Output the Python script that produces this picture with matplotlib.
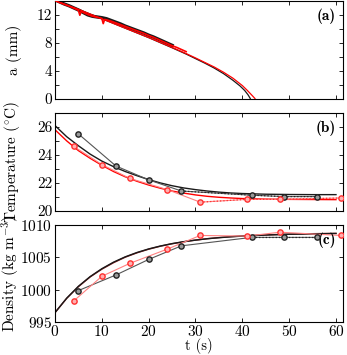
import matplotlib
matplotlib.use("Agg")
import matplotlib.pyplot as plt

plt.rcParams["font.family"] = "cmr10"
plt.rcParams["mathtext.fontset"] = "cm"
plt.rcParams["axes.formatter.use_mathtext"] = True
plt.rcParams["font.size"] = 11

# ---- panel (a): radius a (mm) ----
t_a_blk = [0, 1, 2, 3, 4, 5, 6, 7, 8, 9, 10, 11, 12, 13, 14, 15, 16, 17, 18,
           19, 20, 21, 22, 23, 24, 25]
a_blk = [14.1, 13.8, 13.5, 13.25, 12.95, 12.65, 12.3, 11.95, 11.75, 11.65,
         11.55, 11.4, 11.15, 10.9, 10.65, 10.35, 10.1, 9.85, 9.6, 9.35, 9.05,
         8.8, 8.5, 8.2, 7.9, 7.6]
t_a_red = [0, 1, 2, 3, 4, 5, 5.3, 5.6, 6, 7, 8, 9, 10, 10.3, 10.6, 11, 12, 13,
           14, 15, 16, 17, 18, 19, 20, 21, 22, 23, 24, 25, 26, 27, 28]
a_red = [14.0, 13.7, 13.45, 13.2, 12.9, 12.6, 11.9, 12.5, 12.3, 12.0, 11.75,
         11.6, 11.45, 10.7, 11.3, 11.25, 11.05, 10.8, 10.55, 10.3, 10.05, 9.8,
         9.55, 9.3, 9.0, 8.75, 8.45, 8.15, 7.85, 7.55, 7.3, 7.0, 6.7]
t_a_mod_blk = [0, 5, 10, 15, 20, 25, 28, 30, 32, 34, 36, 38, 39.5, 40.5, 41.2,
               41.7]
a_mod_blk = [14.0, 12.75, 11.4, 10.05, 8.7, 7.25, 6.35, 5.7, 5.05, 4.35, 3.55,
             2.6, 1.8, 1.15, 0.55, 0.0]
t_a_mod_red = [0, 5, 10, 15, 20, 25, 28, 30, 32, 34, 36, 38, 40, 41, 42, 42.7]
a_mod_red = [14.0, 12.75, 11.4, 10.05, 8.72, 7.3, 6.42, 5.8, 5.15, 4.5, 3.75,
             2.9, 1.85, 1.2, 0.5, 0.0]

# ---- panel (b): temperature (degC) ----
t_b_blk = [5, 13, 20, 27, 42, 49, 56]
T_b_blk = [25.5, 23.2, 22.2, 21.4, 21.1, 21.0, 21.0]
t_b_red = [4, 10, 16, 24, 31, 41, 48, 61]
T_b_red = [24.6, 23.3, 22.3, 21.5, 20.6, 20.8, 20.8, 20.9]
t_mod = [0, 2.5, 5, 7.5, 10, 12.5, 15, 17.5, 20, 22.5, 25, 27.5, 30, 32.5, 35,
         37.5, 40, 45, 50, 55, 60]
T_mod_blk = [26.1, 25.3, 24.65, 24.05, 23.55, 23.15, 22.8, 22.5, 22.22, 21.98,
             21.78, 21.62, 21.5, 21.4, 21.32, 21.26, 21.22, 21.17, 21.15,
             21.14, 21.14]
T_mod_red = [25.8, 25.0, 24.3, 23.75, 23.25, 22.8, 22.42, 22.1, 21.83, 21.6,
             21.4, 21.25, 21.12, 21.02, 20.95, 20.9, 20.86, 20.82, 20.8, 20.79,
             20.78]

# ---- panel (c): density (kg m^-3) ----
t_c_blk = [5, 13, 20, 27, 42, 49, 56]
rho_c_blk = [999.9, 1002.3, 1004.7, 1006.8, 1008.1, 1008.1, 1008.1]
t_c_red = [4, 10, 16, 24, 31, 41, 48, 61]
rho_c_red = [998.3, 1002.1, 1004.1, 1006.3, 1008.4, 1008.3, 1008.9, 1008.4]
rho_mod_blk = [996.5, 998.73, 1000.56, 1002.05, 1003.27, 1004.28, 1005.10,
               1005.77, 1006.32, 1006.77, 1007.14, 1007.44, 1007.68, 1007.89,
               1008.05, 1008.19, 1008.30, 1008.46, 1008.58, 1008.65, 1008.70]
rho_mod_red = [996.5, 998.7, 1000.5, 1002.0, 1003.2, 1004.2, 1005.05, 1005.72,
               1006.28, 1006.74, 1007.12, 1007.43, 1007.68, 1007.9, 1008.07,
               1008.21, 1008.32, 1008.48, 1008.6, 1008.67, 1008.72]

RED = "#ff0000"
BLK = "#1a1a1a"

fig = plt.figure(figsize=(3.47, 3.55), dpi=100)
ax_a = fig.add_axes([0.1585, 0.7225, 0.830, 0.276])
ax_b = fig.add_axes([0.1585, 0.407, 0.830, 0.2746])
ax_c = fig.add_axes([0.1585, 0.092, 0.830, 0.274])

# (a)
ax_a.plot(t_a_blk, a_blk, color=BLK, lw=2.4, zorder=2)
ax_a.plot(t_a_red, a_red, color=RED, lw=1.2, zorder=3)
ax_a.plot(t_a_mod_blk, a_mod_blk, color=BLK, lw=0.9, zorder=2)
ax_a.plot(t_a_mod_red, a_mod_red, color=RED, lw=0.9, zorder=2)
ax_a.set_ylim(0, 14)
ax_a.set_yticks(range(0, 15, 2))
ax_a.set_yticklabels([str(v) if v % 4 == 0 else "" for v in range(0, 15, 2)])
ax_a.set_ylabel("a (mm)")
ax_a.set_xticklabels([])


def markers(ax, t, y, color, face, tail, line_col):
    ax.plot(t, y, color=line_col, lw=0.8, zorder=3)
    ax.plot(t[tail:], y[tail:], color=color, lw=0.9, ls=":", zorder=3)
    ax.plot(t, y, ls="none", marker="o", ms=3.8, mew=1.0, mec=color, mfc=face,
            zorder=4)


# (b)
ax_b.plot(t_mod, T_mod_blk, color=BLK, lw=1.0, zorder=2)
ax_b.plot(t_mod, T_mod_red, color=RED, lw=1.0, zorder=2)
markers(ax_b, t_b_blk, T_b_blk, "#222222", "#9a9a9a", 3, "#555555")
markers(ax_b, t_b_red, T_b_red, "#ff3030", "#ffb0b0", 4, "#ff8080")
ax_b.set_ylim(20, 27)
ax_b.set_yticks(range(20, 28))
ax_b.set_yticklabels([str(v) if v % 2 == 0 else "" for v in range(20, 28)])
ax_b.set_ylabel(r"Temperature ($^{\circ}$C)")
ax_b.set_xticklabels([])

# (c)
ax_c.plot(t_mod, rho_mod_red, color="#8b1a1a", lw=1.0, zorder=2)
ax_c.plot(t_mod, rho_mod_blk, color=BLK, lw=1.0, zorder=2)
markers(ax_c, t_c_blk, rho_c_blk, "#222222", "#9a9a9a", 4, "#555555")
markers(ax_c, t_c_red, rho_c_red, "#ff3030", "#ffb0b0", 7, "#ff8080")
ax_c.set_ylim(995, 1010)
ax_c.set_yticks([995, 1000, 1005, 1010])
ax_c.set_ylabel(r"Density (kg m$^{-3}$)")

for ax, lab in zip((ax_a, ax_b, ax_c), ("(a)", "(b)", "(c)")):
    ax.set_xlim(0, 61.5)
    ax.set_xticks(range(0, 61, 10))
    ax.tick_params(direction="in", top=True, right=True, length=3, width=0.6,
                   pad=2)
    for s in ax.spines.values():
        s.set_linewidth(0.8)
    ax.yaxis.set_label_coords(-0.115, 0.5)
    ax.text(0.975, 0.84, lab, transform=ax.transAxes, ha="right", va="center",
            fontfamily="cmb10", fontsize=11)

ax_c.tick_params(axis="x", pad=1)
ax_c.set_xlabel("t (s)", fontsize=10.5)
ax_c.xaxis.set_label_coords(0.5, -0.16)

fig.savefig("out.png", dpi=100)
